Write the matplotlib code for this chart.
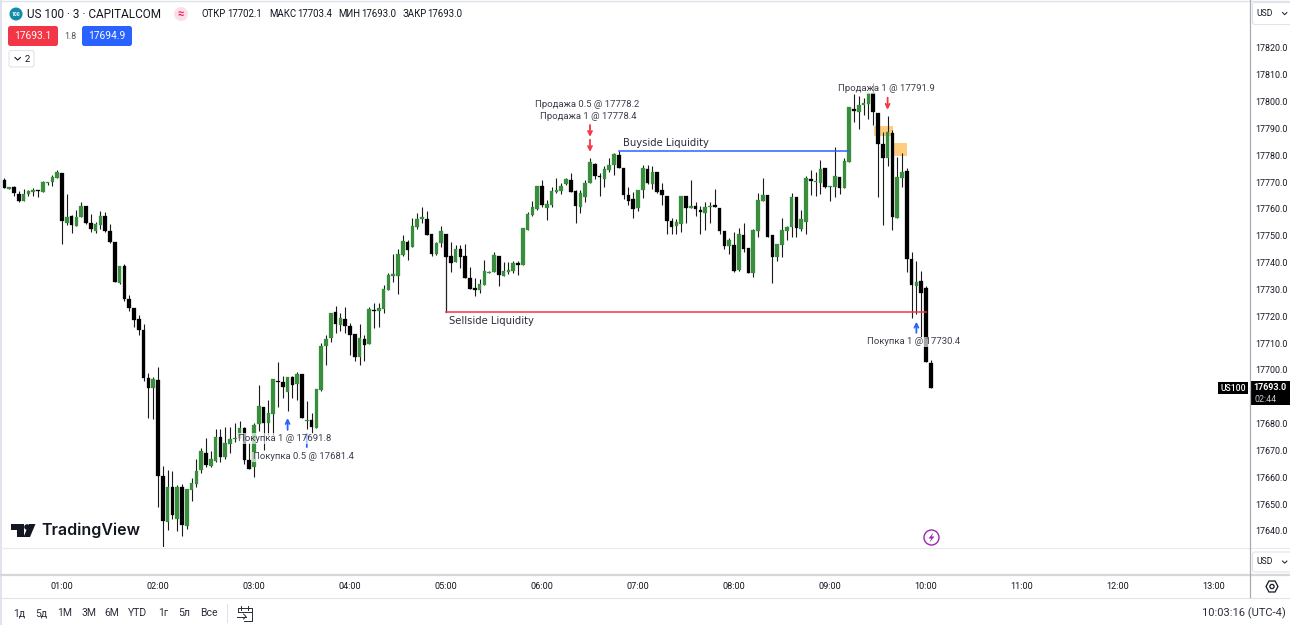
import numpy as np
import matplotlib
matplotlib.use('Agg')
import matplotlib.pyplot as plt
from matplotlib.patches import Circle, FancyBboxPatch, Polygon, Rectangle
from matplotlib.transforms import ScaledTranslation

plt.rcParams['font.family'] = ['Roboto', 'DejaVu Sans']

# US 100, 3 minute bars, first bar opens at 00:24
first_bar_minute = 24
bar_minutes = 3

opens = [
    17770.4, 17767.0, 17767.9, 17765.3, 17762.7, 17765.1, 17766.0, 17766.6, 17766.1, 17769.3,
    17769.7, 17771.1, 17773.0, 17754.5, 17756.9, 17753.4, 17756.8, 17760.6, 17754.5, 17751.3,
    17753.7, 17757.0, 17751.5, 17747.3, 17732.2, 17738.4, 17726.2, 17722.6, 17718.5, 17714.4,
    17696.6, 17693.0, 17695.9, 17660.1, 17643.1, 17656.1, 17644.1, 17656.1, 17641.6, 17655.0,
    17657.1, 17662.4, 17668.6, 17663.9, 17665.8, 17674.5, 17667.1, 17672.0, 17673.8, 17674.3,
    17677.9, 17666.1, 17663.4, 17679.5, 17686.0, 17680.0, 17683.2, 17695.5, 17695.3, 17691.4,
    17697.0, 17694.4, 17698.0, 17680.5, 17681.0, 17678.1, 17692.2, 17708.6, 17711.4, 17721.1,
    17716.4, 17718.5, 17716.0, 17713.0, 17704.3, 17711.3, 17709.4, 17722.0, 17721.7, 17722.2,
    17729.4, 17734.8, 17734.8, 17742.6, 17747.5, 17745.3, 17752.8, 17756.0, 17756.0, 17750.2,
    17742.7, 17746.8, 17750.3, 17742.1, 17739.7, 17744.7, 17742.1, 17734.0, 17730.1, 17729.4,
    17731.4, 17735.9, 17736.1, 17742.1, 17734.7, 17736.1, 17736.6, 17739.6, 17738.8, 17751.9,
    17757.3, 17759.6, 17768.1, 17760.0, 17761.1, 17766.1, 17766.3, 17769.1, 17770.4, 17766.3,
    17760.2, 17764.2, 17769.4, 17776.4, 17771.8, 17770.9, 17774.0, 17775.9, 17779.9, 17774.9,
    17764.7, 17763.5, 17760.0, 17766.6, 17774.4, 17768.9, 17773.4, 17766.7, 17764.5, 17755.0,
    17753.2, 17754.2, 17764.5, 17760.1, 17760.7, 17759.3, 17758.3, 17760.2, 17761.0, 17759.9,
    17751.3, 17746.0, 17746.2, 17736.9, 17750.1, 17745.0, 17735.9, 17751.5, 17762.5, 17765.0,
    17750.1, 17741.9, 17746.2, 17751.5, 17752.8, 17764.0, 17752.2, 17754.9, 17770.9, 17769.8,
    17769.2, 17774.8, 17767.8, 17767.7, 17771.6, 17767.6, 17777.0, 17796.9, 17795.9, 17798.5,
    17798.9, 17802.7, 17795.5, 17783.8, 17778.5, 17787.8, 17756.1, 17771.3, 17773.9, 17740.9,
    17730.8, 17732.8, 17730.1, 17702.1,
]
highs = [
    17771.1, 17767.9, 17768.2, 17766.5, 17767.0, 17766.7, 17767.5, 17766.6, 17770.1, 17769.6,
    17772.3, 17774.0, 17773.0, 17765.1, 17757.4, 17759.3, 17762.1, 17760.7, 17757.8, 17754.9,
    17758.9, 17758.5, 17754.0, 17747.3, 17738.4, 17739.0, 17727.5, 17722.6, 17720.1, 17716.8,
    17698.4, 17697.1, 17700.9, 17663.9, 17662.4, 17662.1, 17656.8, 17657.1, 17655.2, 17659.3,
    17666.5, 17670.4, 17674.3, 17669.6, 17677.5, 17677.5, 17678.3, 17678.5, 17680.0, 17680.7,
    17678.5, 17672.3, 17680.0, 17694.0, 17686.0, 17688.4, 17696.1, 17702.7, 17697.4, 17697.0,
    17697.4, 17699.0, 17698.0, 17688.1, 17683.5, 17692.5, 17709.6, 17712.7, 17720.9, 17723.5,
    17720.7, 17723.2, 17717.3, 17713.0, 17716.6, 17712.7, 17723.0, 17724.7, 17724.7, 17731.3,
    17735.6, 17742.7, 17744.6, 17749.9, 17748.1, 17756.4, 17758.3, 17760.2, 17759.0, 17750.2,
    17747.2, 17753.3, 17750.3, 17747.2, 17746.2, 17746.2, 17746.6, 17738.1, 17733.8, 17733.4,
    17740.6, 17736.5, 17743.6, 17742.1, 17739.9, 17739.9, 17740.4, 17740.1, 17752.5, 17758.6,
    17762.6, 17768.1, 17770.4, 17763.0, 17767.9, 17771.3, 17769.2, 17771.1, 17773.0, 17766.7,
    17766.7, 17770.4, 17778.8, 17776.6, 17772.9, 17775.6, 17778.5, 17780.4, 17781.1, 17774.9,
    17767.9, 17766.1, 17766.7, 17776.0, 17776.0, 17775.6, 17773.4, 17769.2, 17764.5, 17756.1,
    17755.9, 17764.5, 17764.5, 17770.4, 17762.2, 17760.7, 17762.2, 17762.2, 17767.0, 17759.9,
    17751.3, 17748.7, 17751.2, 17752.4, 17754.5, 17745.0, 17752.0, 17765.5, 17771.3, 17765.0,
    17750.1, 17746.5, 17756.1, 17753.3, 17765.5, 17764.0, 17759.3, 17772.0, 17774.2, 17773.5,
    17777.9, 17774.8, 17768.2, 17782.6, 17771.6, 17778.5, 17797.6, 17802.4, 17801.9, 17801.1,
    17803.4, 17806.5, 17795.5, 17788.4, 17794.4, 17789.1, 17779.1, 17780.4, 17774.8, 17743.7,
    17740.2, 17736.5, 17730.9, 17703.4,
]
lows = [
    17767.3, 17767.0, 17764.6, 17762.1, 17762.7, 17764.6, 17764.6, 17764.2, 17766.1, 17768.4,
    17768.2, 17771.1, 17746.6, 17753.7, 17750.6, 17753.4, 17756.8, 17754.0, 17751.2, 17750.8,
    17752.0, 17750.9, 17747.1, 17732.3, 17731.7, 17725.3, 17721.5, 17715.8, 17712.7, 17695.7,
    17681.6, 17681.4, 17648.4, 17633.8, 17640.0, 17644.0, 17639.8, 17637.9, 17640.2, 17650.9,
    17655.9, 17661.4, 17663.4, 17663.6, 17665.5, 17665.5, 17666.3, 17668.8, 17672.9, 17674.3,
    17664.6, 17662.9, 17659.6, 17677.0, 17669.8, 17675.4, 17675.4, 17686.0, 17689.1, 17684.2,
    17689.1, 17688.4, 17681.9, 17677.5, 17676.0, 17678.1, 17691.9, 17701.5, 17710.2, 17713.3,
    17714.2, 17713.3, 17705.2, 17703.1, 17701.5, 17703.1, 17709.4, 17715.2, 17715.8, 17720.7,
    17729.4, 17732.5, 17727.8, 17742.2, 17740.6, 17745.3, 17752.0, 17754.5, 17749.9, 17742.1,
    17742.5, 17745.3, 17741.9, 17736.3, 17739.7, 17737.8, 17733.9, 17729.7, 17727.3, 17728.4,
    17731.4, 17735.7, 17736.1, 17731.1, 17734.7, 17735.4, 17735.7, 17735.0, 17738.8, 17751.8,
    17757.0, 17759.3, 17760.5, 17755.5, 17760.2, 17765.5, 17765.1, 17768.6, 17766.1, 17754.3,
    17758.3, 17762.4, 17769.4, 17770.7, 17764.6, 17767.7, 17773.5, 17772.3, 17775.0, 17763.5,
    17761.1, 17756.4, 17758.9, 17763.7, 17768.8, 17767.0, 17765.7, 17761.2, 17750.3, 17750.2,
    17750.3, 17750.9, 17754.3, 17760.1, 17757.0, 17750.2, 17751.8, 17754.3, 17760.5, 17750.3,
    17744.6, 17742.8, 17736.3, 17736.6, 17743.7, 17735.7, 17734.4, 17749.1, 17762.5, 17749.3,
    17732.2, 17740.1, 17741.9, 17748.1, 17749.3, 17749.3, 17751.4, 17750.2, 17764.8, 17764.6,
    17765.2, 17767.6, 17762.7, 17764.2, 17765.1, 17767.6, 17777.0, 17792.2, 17789.3, 17794.7,
    17793.0, 17790.9, 17764.2, 17753.7, 17775.8, 17751.8, 17756.1, 17767.9, 17736.0, 17718.9,
    17720.4, 17712.0, 17702.5, 17693.0,
]
closes = [
    17767.6, 17767.9, 17765.5, 17762.6, 17765.2, 17766.2, 17766.6, 17766.2, 17769.6, 17769.6,
    17771.4, 17773.4, 17755.0, 17756.6, 17753.5, 17756.6, 17760.9, 17754.4, 17752.3, 17754.0,
    17757.0, 17751.4, 17747.3, 17732.3, 17738.4, 17726.2, 17722.9, 17718.4, 17714.4, 17696.5,
    17693.0, 17696.3, 17660.2, 17643.2, 17656.1, 17645.6, 17656.0, 17642.0, 17655.2, 17657.4,
    17662.1, 17669.3, 17664.2, 17666.3, 17674.5, 17667.1, 17672.5, 17674.0, 17674.3, 17678.1,
    17666.1, 17662.9, 17679.1, 17686.3, 17680.0, 17683.5, 17696.1, 17695.3, 17693.4, 17697.0,
    17694.0, 17698.1, 17681.9, 17681.0, 17678.5, 17692.5, 17708.7, 17711.3, 17720.9, 17716.8,
    17718.9, 17716.0, 17712.7, 17704.6, 17711.7, 17709.1, 17722.4, 17721.5, 17722.7, 17729.8,
    17735.2, 17735.3, 17743.0, 17747.7, 17744.2, 17753.3, 17756.0, 17756.5, 17749.9, 17742.9,
    17747.0, 17751.4, 17741.9, 17739.5, 17744.7, 17741.9, 17733.9, 17729.9, 17729.3, 17731.7,
    17736.4, 17736.1, 17742.4, 17735.0, 17736.6, 17737.0, 17739.5, 17738.8, 17752.5, 17757.6,
    17760.2, 17768.1, 17761.0, 17761.5, 17766.3, 17766.7, 17768.2, 17770.7, 17766.1, 17760.7,
    17765.5, 17769.4, 17777.0, 17772.0, 17771.4, 17774.4, 17776.0, 17780.0, 17775.0, 17764.8,
    17762.7, 17759.7, 17766.7, 17774.9, 17769.2, 17773.4, 17766.0, 17764.8, 17755.0, 17752.9,
    17754.7, 17764.5, 17760.0, 17760.7, 17759.5, 17758.5, 17760.2, 17760.7, 17760.5, 17751.5,
    17745.8, 17748.2, 17736.6, 17750.3, 17744.6, 17735.7, 17751.7, 17763.0, 17764.7, 17749.3,
    17741.9, 17746.5, 17751.8, 17753.0, 17764.2, 17752.4, 17755.9, 17771.3, 17770.2, 17770.2,
    17774.5, 17767.9, 17768.2, 17771.8, 17767.6, 17777.5, 17797.6, 17796.3, 17798.4, 17799.1,
    17802.7, 17795.9, 17783.7, 17778.6, 17788.3, 17756.8, 17771.6, 17773.4, 17741.0, 17731.3,
    17732.3, 17728.4, 17702.7, 17693.0,
]

# the 17690 label sits under the last price tag, so it is left out
price_ticks = [17640, 17650, 17660, 17670, 17680, 17700, 17710, 17720, 17730, 17740,
               17750, 17760, 17770, 17780, 17790, 17800, 17810, 17820]
hour_labels = ['01:00', '02:00', '03:00', '04:00', '05:00', '06:00', '07:00',
               '08:00', '09:00', '10:00', '11:00', '12:00', '13:00']
range_labels = ['1д', '5д', '1М', '3М', '6М', 'YTD', '1г', '5л', 'Все']
bid_price = 17693.1
ask_price = 17694.9
spread = 1.8

# drawings on the chart: time in minutes since midnight, then prices
buyside_line = (408, 552, 17781.3)
sellside_line = (300, 600, 17721.4, 17741.9)
supply_boxes = [(567.5, 579.2, 17786.9, 17790.6), (579.6, 588.1, 17779.5, 17784.2)]
sell_arrows = [(390, 17790.9, 17786.5), (390, 17785.4, 17780.9), (576, 17801.1, 17796.6)]
buy_arrows = [(201, 17677.3, 17681.7), (213, 17670.9, 17676.5), (594, 17713.5, 17717.6)]
trade_labels = [
    ('Продажа 0.5 @ 17778.2', 388, 17798.7),
    ('Продажа 1 @ 17778.4', 388.75, 17794.2),
    ('Продажа 1 @ 17791.9', 575, 17804.4),
    ('Покупка 1 @ 17691.8', 199.4, 17674.0),
    ('Покупка 0.5 @ 17681.4', 211, 17667.2),
    ('Покупка 1 @ 17730.4', 592.5, 17710.1),
]

TEXT = '#131722'
GREY = '#50535e'
LINE = '#e0e3eb'
GREEN = '#388e3c'
RED = '#f23645'
BLUE = '#2962ff'

W, H = 1290, 625
fig = plt.figure(figsize=(W / 100, H / 100), dpi=100, facecolor='white')

# price pane, the axes limits set the scale of 96 px per hour and 2.683 px per point
ax = fig.add_axes([1 / W, (H - 547) / H, 1249 / W, 547 / H])
ax.set_xlim(21.875, 802.5)
ax.set_ylim(17633.66, 17837.5)
for side in ax.spines.values():
    side.set_visible(False)

times = first_bar_minute + bar_minutes * np.arange(len(opens))
opens = np.array(opens)
closes = np.array(closes)
colors = [GREEN if c >= o else 'black' for o, c in zip(opens, closes)]

for t0, t1, p0, p1 in supply_boxes:
    ax.add_patch(Rectangle((t0, p0), t1 - t0, p1 - p0, facecolor='#ffcc80', edgecolor='none', zorder=1))

ax.vlines(times, lows, highs, color='#1a1a1a', linewidth=0.8, zorder=2)
ax.bar(times, closes - opens, bottom=opens, width=2.35, color=colors,
       edgecolor=colors, linewidth=0.2, zorder=3)

ax.plot(buyside_line[:2], [buyside_line[2]] * 2, color=BLUE, linewidth=1.1, zorder=4)
ax.plot(sellside_line[:2], [sellside_line[2]] * 2, color=RED, linewidth=1.1, zorder=4)
ax.plot([sellside_line[0]] * 2, sellside_line[2:], color='#222222', linewidth=0.9, zorder=2)

for x, p, note in [(410.6, 17784.2, 'Buyside Liquidity'), (301.9, 17717.9, 'Sellside Liquidity')]:
    ax.text(x, p, note, fontsize=7.2, color='#2a2e39', va='center', ha='left', zorder=5,
            family=['DejaVu Sans'])

for t, tail, tip in sell_arrows:
    ax.annotate('', xy=(t, tip), xytext=(t, tail), zorder=5,
                arrowprops=dict(arrowstyle='->', color=RED, lw=1.3, mutation_scale=7, shrinkA=0, shrinkB=0))
for t, tail, tip in buy_arrows:
    ax.annotate('', xy=(t, tip), xytext=(t, tail), zorder=5,
                arrowprops=dict(arrowstyle='->', color=BLUE, lw=1.3, mutation_scale=7, shrinkA=0, shrinkB=0))
for note, t, p in trade_labels:
    ax.text(t, p, note, fontsize=6.8, color='#3a3e49', ha='center', va='center', zorder=6,
            bbox=dict(facecolor='white', edgecolor='none', alpha=0.65, pad=0.6))

ax.yaxis.tick_right()
ax.set_yticks(price_ticks)
ax.set_yticklabels([f'{p:.1f}' for p in price_ticks])
ax.set_xticks(60 * np.arange(1, 14))
ax.set_xticklabels(hour_labels)
ax.tick_params(axis='y', length=0, pad=3.8, labelsize=6.4, labelcolor=TEXT)
ax.tick_params(axis='x', length=0, pad=25, labelsize=6.6, labelcolor=TEXT)
# nudge the price labels down a touch
nudge = ScaledTranslation(0, -1 / 100, fig.dpi_scale_trans)
for tick_label in ax.get_yticklabels():
    tick_label.set_transform(tick_label.get_transform() + nudge)

# everything around the chart is laid out in screen pixels on a full size overlay
ui = fig.add_axes([0, 0, 1, 1], zorder=10)
ui.set_xlim(0, W)
ui.set_ylim(H, 0)
ui.axis('off')
ui.patch.set_alpha(0)


def rounded(x0, y0, x1, y1, face, edge='none', r=2.5):
    ui.add_patch(FancyBboxPatch((x0 + r, y0 + r), x1 - x0 - 2 * r, y1 - y0 - 2 * r,
                                boxstyle=f'round,pad={r},rounding_size={r}',
                                facecolor=face, edgecolor=edge, linewidth=0.8))


def label(x, y, s, size=6.6, color=TEXT, ha='left', **kw):
    ui.text(x, y, s, fontsize=size, color=color, ha=ha, va='center', **kw)


# pane borders
ui.add_patch(Rectangle((0, 0), 1.5, H, facecolor=LINE, edgecolor='none'))
ui.plot([0, W], [0.5, 0.5], color=LINE, linewidth=1)
ui.plot([0, W], [547.5, 547.5], color='#e8eaf0', linewidth=0.8)
ui.plot([0, W], [575, 575], color='#d6d7db', linewidth=1.6)
ui.plot([0, W], [597.5, 597.5], color=LINE, linewidth=0.8)
ui.plot([1249.5, 1249.5], [0, 597], color='#a8abb5', linewidth=0.9)

# symbol header
ui.add_patch(Circle((16, 14), 6.5, facecolor='#138ba8', edgecolor='none'))
label(16, 14.2, '100', size=3.6, color='white', ha='center', fontweight='bold')
label(27, 14, 'US 100 · 3 · CAPITALCOM', size=8.5)
ui.add_patch(Circle((181, 14), 7, facecolor='#fbdfe8', edgecolor='none'))
label(181, 13.5, '≈', size=8, color='#e91e63', ha='center', fontweight='bold')
ohlc_names = ['ОТКР', 'МАКС', 'МИН', 'ЗАКР']
ohlc_values = [opens[-1], highs[-1], lows[-1], closes[-1]]
name_x = [201.5, 269.3, 338.3, 402.3]
value_x = [227.7, 297.7, 361.7, 427.7]
for name, value, x0, x1 in zip(ohlc_names, ohlc_values, name_x, value_x):
    label(x0, 14.4, name, size=6.9, color=TEXT)
    label(x1, 14.4, f'{value:.1f}', size=6.9, color=TEXT)

rounded(8, 26, 58, 46, RED)
label(33, 36.3, f'{bid_price:.1f}', size=7.4, color='white', ha='center')
label(70, 36.3, f'{spread:.1f}', size=6.3, color=GREY, ha='center')
rounded(82, 26, 132, 46, BLUE)
label(107, 36.3, f'{ask_price:.1f}', size=7.4, color='white', ha='center')
rounded(9, 50.5, 34, 67, 'white', edge=LINE)
ui.plot([15, 17.7, 20.4], [57.5, 60, 57.5], color=TEXT, linewidth=0.8)
label(27.5, 59, '2', size=6.8, color=TEXT, ha='center')

# TradingView logo
ui.add_patch(Polygon([(11, 524), (23.5, 524), (23.5, 537), (17, 537), (17, 530.3), (11, 530.3)],
                     facecolor=TEXT, edgecolor='none'))
ui.add_patch(Circle((27, 527), 2.8, facecolor=TEXT, edgecolor='none'))
ui.add_patch(Polygon([(29, 524), (35.5, 524), (30, 537), (23.5, 537)], facecolor=TEXT, edgecolor='none'))
label(41, 530.5, 'TradingView', size=11.5, fontweight='semibold', family=['Inter', 'DejaVu Sans'])

# lightning badge
ui.add_patch(Circle((931.5, 537.5), 7.5, facecolor='white', edgecolor='#9c27b0', linewidth=1))
ui.add_patch(Polygon([(933.5, 532.5), (928.5, 538.5), (931.3, 538.5), (929.5, 542.5),
                      (934.5, 536.5), (931.7, 536.5)], facecolor='#9c27b0', edgecolor='none'))

# last price tags
ui.add_patch(Rectangle((1218, 382), 30, 12, facecolor='black', edgecolor='none'))
label(1233, 388.3, 'US100', size=6.2, color='white', ha='center', fontweight='medium')
ui.add_patch(Rectangle((1249.5, 381), 41, 24, facecolor='black', edgecolor='none'))
label(1270, 387.6, f'{closes[-1]:.1f}', size=6.4, color='white', ha='center', fontweight='bold')
label(1266, 399.4, '02:44', size=6.4, color='#c8cad0', ha='center')

# currency boxes
for y0, height in ((2.5, 22), (552, 20)):
    rounded(1252.5, y0, 1292, y0 + height, 'white', edge=LINE)
    label(1256, y0 + height / 2, 'USD', size=6.2, color=TEXT)
    mid = y0 + height / 2
    ui.plot([1282.5, 1284.7, 1286.9], [mid - 1, mid + 1.2, mid - 1], color=TEXT, linewidth=0.7)

# settings icon
ui.add_patch(Polygon([(1266, 586.5), (1269, 581), (1275, 581), (1278, 586.5), (1275, 592), (1269, 592)],
                     facecolor='white', edgecolor=TEXT, linewidth=0.9))
ui.add_patch(Circle((1272, 586.5), 2.1, facecolor='white', edgecolor=TEXT, linewidth=0.9))

# bottom toolbar
range_x = [13, 35, 57, 81, 104, 128, 158, 178, 200]
for x, text in zip(range_x, range_labels):
    label(x, 613, text, size=7.5, color='#2a2e39')
ui.plot([226.5, 226.5], [604, 622], color=LINE, linewidth=0.8)
icon_color = '#2a2e39'
ui.plot([240, 237.5, 237.5], [608, 608, 612], color=icon_color, linewidth=0.7)
ui.plot([241, 241], [605.5, 610], color=icon_color, linewidth=0.7)
ui.plot([248, 248], [605.5, 610], color=icon_color, linewidth=0.7)
ui.plot([241, 248], [608, 608], color=icon_color, linewidth=0.7)
ui.plot([248, 252, 252, 244], [608, 608, 621, 621], color=icon_color, linewidth=0.7)
ui.plot([237.5, 252], [612, 612], color=icon_color, linewidth=0.7)
ui.plot([237, 246], [616.5, 616.5], color=icon_color, linewidth=0.7)
ui.plot([243.5, 246, 243.5], [614, 616.5, 619], color=icon_color, linewidth=0.7)
label(1286, 613, '10:03:16 (UTC-4)', size=8, color='#2a2e39', ha='right')

fig.savefig('out.png', dpi=100)
